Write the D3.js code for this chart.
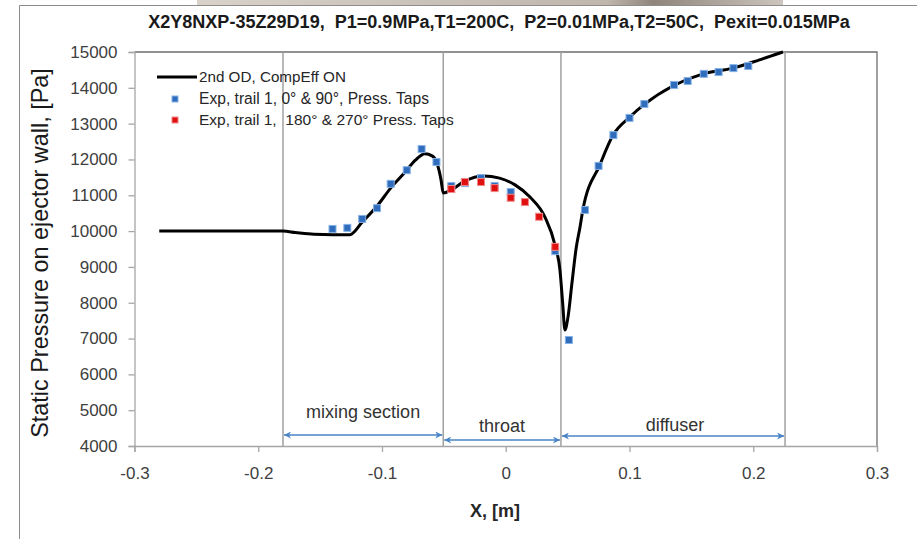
<!DOCTYPE html>
<html><head><meta charset="utf-8">
<script src="https://cdn.jsdelivr.net/npm/d3@7"></script>
<style>body{margin:0;background:#fff}svg{display:block}text{font-family:"Liberation Sans",Arial,sans-serif}</style>
</head><body><svg id="c" width="917" height="539"></svg>
<script>
// ---- data ----
const curveX=[-0.28,-0.18,-0.17,-0.155,-0.14,-0.126,-0.116,-0.104,-0.093,-0.082,-0.073,-0.0653,-0.0595,-0.0556,-0.0523,-0.0505,-0.044,-0.033,-0.018,-0.005,0.0075,0.0196,0.0317,0.0398,0.0438,0.046,0.0478,0.0503,0.0535,0.057,0.060,0.0623,0.0761,0.0867,0.1004,0.1125,0.135,0.1594,0.1837,0.205,0.224];
const curveY=[10000,10000,9960,9910,9900,9900,10250,10700,11200,11620,11980,12160,12100,11900,11430,11060,11150,11400,11540,11480,11290,10950,10390,9610,8910,7990,7240,7600,8550,9550,10110,10590,11850,12680,13190,13550,14050,14390,14550,14780,15000];
const blueX=[-0.140,-0.128,-0.116,-0.104,-0.093,-0.080,-0.068,-0.056,-0.044,-0.033,-0.020,-0.009,0.004,0.040,0.051,0.064,0.075,0.087,0.100,0.112,0.136,0.147,0.160,0.172,0.184,0.196];
const blueY=[10060,10090,10340,10640,11320,11700,12290,11930,11260,11340,11480,11260,11090,9440,6960,10590,11820,12680,13160,13550,14080,14190,14390,14440,14550,14610];
const redX=[-0.044,-0.033,-0.020,-0.009,0.004,0.0155,0.027,0.040];
const redY=[11175,11370,11370,11200,10930,10810,10400,9560];
const xTicks=[-0.3,-0.2,-0.1,0,0.1,0.2,0.3];
const yTicks=[4000,5000,6000,7000,8000,9000,10000,11000,12000,13000,14000,15000];
const sectionBounds=[-0.18,-0.0505,0.0446,0.2257];
const sectionLabels=["mixing section","throat","diffuser"];
const legendLabels=["2nd OD, CompEff ON","Exp, trail 1, 0° & 90°, Press. Taps","Exp, trail 1,  180° & 270° Press. Taps"];
const titleText="X2Y8NXP-35Z29D19,  P1=0.9MPa,T1=200C,  P2=0.01MPa,T2=50C,  Pexit=0.015MPa";

// ---- layout ----
const svg=d3.select("#c");
const L=134.5,R=877,T=52,B=446;
const x=d3.scaleLinear().domain([-0.3,0.3]).range([L,R]);
const y=d3.scaleLinear().domain([4000,15000]).range([B,T]);

// photo remnant & frame
const defs=svg.append("defs");
const g1=defs.append("linearGradient").attr("id","ph");
g1.append("stop").attr("offset","0").attr("stop-color","#d8d2ca");
g1.append("stop").attr("offset","0.7").attr("stop-color","#bfb6ac");
g1.append("stop").attr("offset","0.78").attr("stop-color","#8f857a");
g1.append("stop").attr("offset","1").attr("stop-color","#cdc6be");
svg.append("rect").attr("x",197).attr("y",0).attr("width",586).attr("height",5).attr("fill","url(#ph)");
svg.append("path").attr("d","M19.5,539V5.5H917").attr("fill","none").attr("stroke","#8c8c8c").attr("stroke-width",1);

function fit(sel,w,base){sel.style("font-size",base+"px");const l=sel.node().getComputedTextLength();sel.style("font-size",(base*w/l)+"px");}

// title
const tt=svg.append("text").attr("x",499).attr("y",28).attr("text-anchor","middle").style("font-weight","bold").attr("fill","#1a1a1a").attr("xml:space","preserve").text(titleText);
fit(tt,702,16);

// plot border
svg.append("path").attr("d",`M${L},${T}H${R}V${B}`).attr("fill","none").attr("stroke","#6e6e6e").attr("stroke-width",1.3);

// axes
const ya=svg.append("g").attr("transform",`translate(${L},0)`).call(d3.axisLeft(y).tickValues(yTicks).tickSize(6).tickPadding(11).tickFormat(d3.format("d")));
const xa=svg.append("g").attr("transform",`translate(0,${B})`).call(d3.axisBottom(x).tickValues(xTicks).tickSize(6).tickPadding(15).tickFormat(d=>d===0?"0":String(+d.toFixed(1))));
[ya,xa].forEach(a=>{a.selectAll("path,line").attr("stroke","#a6a6a6").attr("stroke-width",1.3);a.selectAll("text").attr("fill","#404040").style("font-size","17px").style("font-family",'"Liberation Sans",Arial,sans-serif');});

// axis titles
const yl=svg.append("text").attr("transform","translate(40,253) rotate(-90)").attr("text-anchor","middle").attr("dy","0.35em").attr("fill","#1a1a1a").text("Static Pressure on ejector wall, [Pa]");
fit(yl,370,20);
svg.append("text").attr("x",495).attr("y",517).attr("text-anchor","middle").style("font-weight","bold").style("font-size","18px").attr("fill","#262626").text("X, [m]");

// section lines
svg.append("g").selectAll("line").data(sectionBounds).join("line")
 .attr("x1",d=>x(d)).attr("x2",d=>x(d)).attr("y1",T).attr("y2",B)
 .attr("stroke","#a0a0a0").attr("stroke-width",1.5);

// arrows
defs.append("marker").attr("id","ah").attr("viewBox","0 0 10 10").attr("refX",10).attr("refY",5)
 .attr("markerWidth",9).attr("markerHeight",7).attr("markerUnits","userSpaceOnUse").attr("orient","auto-start-reverse")
 .append("path").attr("d","M0,0L10,5L0,10L3,5Z").attr("fill","#4a84c6");
const arrowY=[435,440,436];
const labelY=[418,432,431];
svg.append("g").selectAll("line").data(sectionLabels).join("line")
 .attr("x1",(d,i)=>x(sectionBounds[i])+1).attr("x2",(d,i)=>x(sectionBounds[i+1])-1)
 .attr("y1",(d,i)=>arrowY[i]).attr("y2",(d,i)=>arrowY[i])
 .attr("stroke","#4a84c6").attr("stroke-width",1.6)
 .attr("marker-start","url(#ah)").attr("marker-end","url(#ah)");
svg.append("g").selectAll("text").data(sectionLabels).join("text")
 .attr("x",(d,i)=>(x(sectionBounds[i])+x(sectionBounds[i+1]))/2+[0,0,2][i]).attr("y",(d,i)=>labelY[i])
 .attr("text-anchor","middle").style("font-size","18px").attr("fill","#333").text(d=>d);

// curve
const cdata=curveX.map((v,i)=>[v,curveY[i]]);
svg.append("path").datum(cdata).attr("fill","none").attr("stroke","#000").attr("stroke-width",3)
 .attr("d",d3.line().x(d=>x(d[0])).y(d=>y(d[1])).curve(d3.curveMonotoneX));

// markers
function pts(xs,ys,fill,stroke){
 svg.append("g").selectAll("rect").data(xs.map((v,i)=>[v,ys[i]])).join("rect")
  .attr("x",d=>x(d[0])-3.5).attr("y",d=>y(d[1])-3.5).attr("width",7).attr("height",7)
  .attr("fill",fill).attr("stroke",stroke).attr("stroke-width",1);
}
pts(blueX,blueY,"#2f6cbc","#86b2e6");
pts(redX,redY,"#e01010","#f08888");

// legend
const lg=svg.append("g");
lg.append("line").attr("x1",157).attr("x2",197).attr("y1",77).attr("y2",77).attr("stroke","#000").attr("stroke-width",3);
lg.append("rect").attr("x",172).attr("y",96).attr("width",6).attr("height",6).attr("fill","#2f6cbc").attr("stroke","#86b2e6");
lg.append("rect").attr("x",172).attr("y",117).attr("width",6).attr("height",6).attr("fill","#e01010").attr("stroke","#f08888");
const ly=[77,99,120], lw=[147,230,255];
legendLabels.forEach((t,i)=>{
 const tx=lg.append("text").attr("x",199).attr("y",ly[i]).attr("dy","0.35em").attr("fill","#262626").attr("xml:space","preserve").text(t);
 fit(tx,lw[i],15);
});
</script></body></html>
